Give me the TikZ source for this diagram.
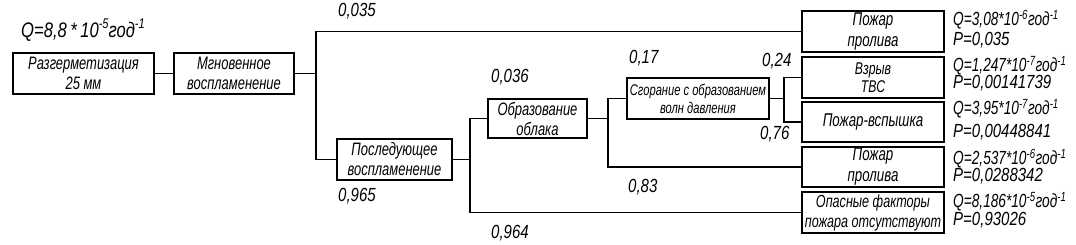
\documentclass[tikz,border=0pt]{standalone}
\usepackage{fontspec}
\newfontfamily\gost{Liberation Sans}[FakeStretch=0.72]
\newfontfamily\gostl{Liberation Sans}[FakeStretch=0.79]
\newcommand{\sups}[1]{\textsuperscript{#1}}
\newcommand{\bigsups}[1]{\raisebox{0.45em}{\fontsize{14}{14}\selectfont #1}}
\tikzset{
  box/.style={draw, line width=1.2pt, inner sep=0pt, align=center,
    font=\gost\itshape\fontsize{18}{20}\selectfont},
  sbox/.style={box, font=\gost\itshape\fontsize{15.5}{18}\selectfont},
  obox/.style={box, font=\gost\itshape\fontsize{17.5}{20}\selectfont},
  bbox/.style={box, font=\gost\itshape\fontsize{18.5}{21}\selectfont},
  rbox/.style={box, minimum width=142pt, minimum height=41pt},
  lbl/.style={anchor=base west, inner sep=0pt, font=\gostl\itshape\fontsize{19}{20}\selectfont},
  qlbl/.style={lbl, font=\gost\itshape\fontsize{19}{20}\selectfont},
  wire/.style={line width=1.2pt},
}
\begin{document}
\begin{tikzpicture}[x=1pt,y=-1pt]
\useasboundingbox (0,0) rectangle (1076,245);
% boxes
\node[box, minimum width=141pt, minimum height=41pt] (r) at (83.5,73.5) {Разгерметизация\\25 мм};
\node[box, minimum width=120pt, minimum height=41pt] (m) at (234,73.5) {Мгновенное\\воспламенение};
\node[box, minimum width=115pt, minimum height=41pt] (ps) at (394.5,159.5) {Последующее\\воспламенение};
\node[box, minimum width=99pt, minimum height=39pt] (ob) at (537.5,118.5) {Образование\\облака};
\node[sbox, minimum width=142pt, minimum height=41pt] (sg) at (698,98.5) {Сгорание с образованием\\волн давления};
\node[rbox, bbox] (p1) at (873,31.5) {Пожар\\пролива};
\node[rbox, box, font=\gost\itshape\fontsize{17}{18}\selectfont] (vz) at (873,77.5) {Взрыв\\ТВС};
\node[rbox, bbox, minimum height=40pt] (vs) at (873,122) {Пожар-вспышка};
\node[rbox, bbox, minimum height=40pt] (p2) at (873,167) {Пожар\\пролива};
\node[rbox, obox] (of) at (873,212.5) {Опасные факторы\\пожара отсутствуют};
% junctions
\coordinate (j1) at (316,73.5);
\coordinate (j2) at (470,159.5);
\coordinate (j3) at (608,118.5);
\coordinate (j4) at (784,98.5);
% wires
\draw[wire] (r) -- (m);
\draw[wire] (m.east) -- (j1);
\draw[wire] (p1.west) -| (j1) |- (ps.west);
\draw[wire] (ps.east) -- (j2);
\draw[wire] (ob.west) -| (j2) |- (of.west);
\draw[wire] (ob.east) -- (j3);
\draw[wire] (sg.west) -| (j3) |- (p2.west);
\draw[wire] (sg.east) -- (j4);
\draw[wire] (vz.west) -| (j4) |- (vs.west);
% probabilities
\node[lbl, font=\gostl\itshape\fontsize{21}{22}\selectfont] (q0) at (21,38) {Q=8,8\,*\,10\bigsups{-5}год\bigsups{-1}};
\node[lbl] (a1) at (338,17) {0,035};
\node[lbl] (a2) at (338,202) {0,965};
\node[lbl] (a3) at (491,83) {0,036};
\node[lbl] (a4) at (491,239) {0,964};
\node[lbl] (a5) at (629,64) {0,17};
\node[lbl] (a6) at (762,67) {0,24};
\node[lbl] (a7) at (760,140) {0,76};
\node[lbl] (a8) at (628,193) {0,83};
% results
\node[qlbl] (q1) at (953,26) {Q=3,08*10\sups{-6}год\sups{-1}};
\node[lbl] (r1) at (953,46) {P=0,035};
\node[qlbl] (q2) at (953,72) {Q=1,247*10\sups{-7}год\sups{-1}};
\node[lbl] (r2) at (953,89) {P=0,00141739};
\node[qlbl] (q3) at (953,115) {Q=3,95*10\sups{-7}год\sups{-1}};
\node[lbl] (r3) at (953,138) {P=0,00448841};
\node[qlbl] (q4) at (953,165) {Q=2,537*10\sups{-6}год\sups{-1}};
\node[lbl] (r4) at (953,182) {P=0,0288342};
\node[qlbl] (q5) at (953,208) {Q=8,186*10\sups{-5}год\sups{-1}};
\node[lbl] (r5) at (953,226) {P=0,93026};
\end{tikzpicture}
\end{document}
